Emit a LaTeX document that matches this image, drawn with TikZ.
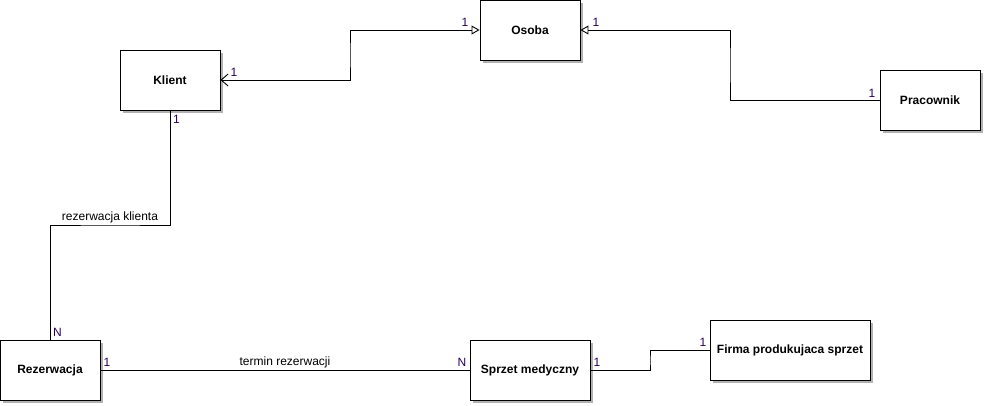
\documentclass[tikz,border=0pt]{standalone}
\usepackage{fontspec}
\setmainfont{Liberation Sans}
\usetikzlibrary{positioning,calc,arrows.meta,shadows}

\definecolor{multcol}{RGB}{40,0,90}

\tikzset{
  entity/.style={draw, fill=white, line width=0.9pt, minimum width=100pt, minimum height=60pt,
    inner sep=2pt, font=\fontsize{12}{14}\selectfont\bfseries,
    drop shadow={shadow xshift=3pt, shadow yshift=-3pt, fill=black!30, opacity=1}},
  link/.style={line width=0.9pt},
  mult/.style={text=multcol, inner sep=1pt, font=\fontsize{12}{14}\selectfont},
  rel/.style={inner sep=2pt, font=\fontsize{12}{14}\selectfont},
  isa/.style={-{Triangle[open, length=8pt, width=9pt]}},
}

\begin{document}
\begin{tikzpicture}[x=1pt, y=-1pt]
  \useasboundingbox (0,0) rectangle (985,405);
  % entities
  \node[entity] (osoba) at (530,30) {Osoba};
  \node[entity] (klient) at (170,80) {Klient};
  \node[entity] (pracownik) at (930,100) {Pracownik};
  \node[entity] (rezerwacja) at (50,370) {Rezerwacja};
  \node[entity, minimum width=120pt] (sprzet) at (530,370) {Sprzet medyczny};
  \node[entity, minimum width=160pt] (firma) at (790,350) {Firma produkujaca sprzet};

  % generalisation
  \draw[link, {Straight Barb[length=7pt, width=12pt]}-{Triangle[open, length=8pt, width=9pt]}]
    (klient.east) -| ($(klient.east)!0.5!(osoba.west)$) |- (osoba.west);
  \draw[link, isa] (pracownik.west) -| ($(pracownik.west)!0.5!(osoba.east)$) |- (osoba.east);

  % relations
  \coordinate (kr) at ($(klient.south)!0.5!(rezerwacja.north)$);
  \draw[link] (klient.south) |- (kr) -| (rezerwacja.north);
  \node[rel, above] at (kr) {rezerwacja klienta};
  \draw[link] (rezerwacja.east) -- (sprzet.west) node[rel, midway, above] {termin rezerwacji};
  \draw[link] (sprzet.east) -| ($(sprzet.east)!0.5!(firma.west)$) |- (firma.west);

  % multiplicities
  \node[mult, above right=2pt and 9pt of klient.east] {1};
  \node[mult, above left=2pt and 10pt of osoba.west] {1};
  \node[mult, above right=2pt and 11pt of osoba.east] {1};
  \node[mult, above left=1pt and 3pt of pracownik.west] {1};
  \node[mult, below right=4pt and 2pt of klient.south] {1};
  \node[mult, above right=2pt and 2pt of rezerwacja.north] {N};
  \node[mult, above right=2pt and 2pt of rezerwacja.east] {1};
  \node[mult, above left=2pt and 2pt of sprzet.west] {N};
  \node[mult, above right=2pt and 2pt of sprzet.east] {1};
  \node[mult, above left=2pt and 2pt of firma.west] {1};
\end{tikzpicture}
\end{document}
